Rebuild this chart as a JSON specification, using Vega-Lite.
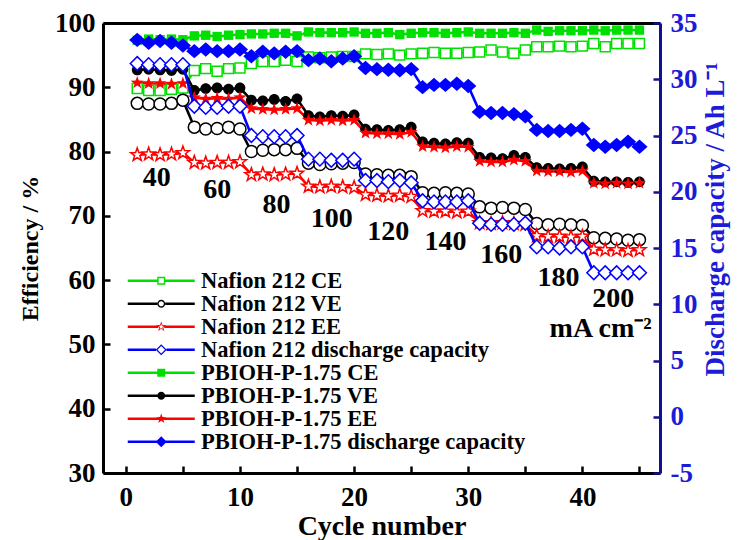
{
  "$schema": "https://vega.github.io/schema/vega-lite/v6.json",
  "width": 557,
  "height": 450,
  "autosize": {"type": "none"},
  "padding": {"left": 103, "top": 23, "right": 84, "bottom": 67},
  "background": "white",
  "config": {
    "font": "Liberation Serif",
    "view": {"stroke": null},
    "axis": {
      "labelFont": "Liberation Serif",
      "titleFont": "Liberation Serif",
      "labelFontWeight": "bold",
      "titleFontWeight": "bold",
      "grid": false,
      "labelOverlap": false,
      "labelFlush": false
    }
  },
  "datasets": {
    "efficiency": [
      {"cycle":1,"series":"Nafion 212 CE","value":89.8},{"cycle":2,"series":"Nafion 212 CE","value":89.5},{"cycle":3,"series":"Nafion 212 CE","value":89.5},{"cycle":4,"series":"Nafion 212 CE","value":89.7},{"cycle":5,"series":"Nafion 212 CE","value":89.9},
      {"cycle":6,"series":"Nafion 212 CE","value":92.6},{"cycle":7,"series":"Nafion 212 CE","value":92.9},{"cycle":8,"series":"Nafion 212 CE","value":92.5},{"cycle":9,"series":"Nafion 212 CE","value":92.9},{"cycle":10,"series":"Nafion 212 CE","value":93.0},
      {"cycle":11,"series":"Nafion 212 CE","value":93.7},{"cycle":12,"series":"Nafion 212 CE","value":94.0},{"cycle":13,"series":"Nafion 212 CE","value":94.0},{"cycle":14,"series":"Nafion 212 CE","value":94.2},{"cycle":15,"series":"Nafion 212 CE","value":94.0},
      {"cycle":16,"series":"Nafion 212 CE","value":94.7},{"cycle":17,"series":"Nafion 212 CE","value":94.6},{"cycle":18,"series":"Nafion 212 CE","value":94.7},{"cycle":19,"series":"Nafion 212 CE","value":94.8},{"cycle":20,"series":"Nafion 212 CE","value":94.8},
      {"cycle":21,"series":"Nafion 212 CE","value":95.2},{"cycle":22,"series":"Nafion 212 CE","value":95.1},{"cycle":23,"series":"Nafion 212 CE","value":95.2},{"cycle":24,"series":"Nafion 212 CE","value":95.0},{"cycle":25,"series":"Nafion 212 CE","value":95.2},
      {"cycle":26,"series":"Nafion 212 CE","value":95.3},{"cycle":27,"series":"Nafion 212 CE","value":95.4},{"cycle":28,"series":"Nafion 212 CE","value":95.3},{"cycle":29,"series":"Nafion 212 CE","value":95.3},{"cycle":30,"series":"Nafion 212 CE","value":95.4},
      {"cycle":31,"series":"Nafion 212 CE","value":95.5},{"cycle":32,"series":"Nafion 212 CE","value":95.8},{"cycle":33,"series":"Nafion 212 CE","value":95.5},{"cycle":34,"series":"Nafion 212 CE","value":95.3},{"cycle":35,"series":"Nafion 212 CE","value":95.8},
      {"cycle":36,"series":"Nafion 212 CE","value":96.3},{"cycle":37,"series":"Nafion 212 CE","value":96.3},{"cycle":38,"series":"Nafion 212 CE","value":96.4},{"cycle":39,"series":"Nafion 212 CE","value":96.3},{"cycle":40,"series":"Nafion 212 CE","value":96.4},
      {"cycle":41,"series":"Nafion 212 CE","value":96.8},{"cycle":42,"series":"Nafion 212 CE","value":96.3},{"cycle":43,"series":"Nafion 212 CE","value":96.8},{"cycle":44,"series":"Nafion 212 CE","value":96.8},{"cycle":45,"series":"Nafion 212 CE","value":96.8},

      {"cycle":1,"series":"Nafion 212 VE","value":87.5},{"cycle":2,"series":"Nafion 212 VE","value":87.4},{"cycle":3,"series":"Nafion 212 VE","value":87.4},{"cycle":4,"series":"Nafion 212 VE","value":87.5},{"cycle":5,"series":"Nafion 212 VE","value":88.0},
      {"cycle":6,"series":"Nafion 212 VE","value":83.8},{"cycle":7,"series":"Nafion 212 VE","value":83.5},{"cycle":8,"series":"Nafion 212 VE","value":83.6},{"cycle":9,"series":"Nafion 212 VE","value":83.8},{"cycle":10,"series":"Nafion 212 VE","value":83.5},
      {"cycle":11,"series":"Nafion 212 VE","value":80.0},{"cycle":12,"series":"Nafion 212 VE","value":80.2},{"cycle":13,"series":"Nafion 212 VE","value":80.3},{"cycle":14,"series":"Nafion 212 VE","value":80.3},{"cycle":15,"series":"Nafion 212 VE","value":80.5},
      {"cycle":16,"series":"Nafion 212 VE","value":78.2},{"cycle":17,"series":"Nafion 212 VE","value":78.0},{"cycle":18,"series":"Nafion 212 VE","value":78.1},{"cycle":19,"series":"Nafion 212 VE","value":78.2},{"cycle":20,"series":"Nafion 212 VE","value":78.3},
      {"cycle":21,"series":"Nafion 212 VE","value":76.5},{"cycle":22,"series":"Nafion 212 VE","value":76.4},{"cycle":23,"series":"Nafion 212 VE","value":76.3},{"cycle":24,"series":"Nafion 212 VE","value":76.3},{"cycle":25,"series":"Nafion 212 VE","value":76.1},
      {"cycle":26,"series":"Nafion 212 VE","value":73.6},{"cycle":27,"series":"Nafion 212 VE","value":73.5},{"cycle":28,"series":"Nafion 212 VE","value":73.6},{"cycle":29,"series":"Nafion 212 VE","value":73.5},{"cycle":30,"series":"Nafion 212 VE","value":73.4},
      {"cycle":31,"series":"Nafion 212 VE","value":71.4},{"cycle":32,"series":"Nafion 212 VE","value":71.2},{"cycle":33,"series":"Nafion 212 VE","value":71.3},{"cycle":34,"series":"Nafion 212 VE","value":71.2},{"cycle":35,"series":"Nafion 212 VE","value":71.0},
      {"cycle":36,"series":"Nafion 212 VE","value":68.8},{"cycle":37,"series":"Nafion 212 VE","value":68.6},{"cycle":38,"series":"Nafion 212 VE","value":68.7},{"cycle":39,"series":"Nafion 212 VE","value":68.6},{"cycle":40,"series":"Nafion 212 VE","value":68.5},
      {"cycle":41,"series":"Nafion 212 VE","value":66.6},{"cycle":42,"series":"Nafion 212 VE","value":66.5},{"cycle":43,"series":"Nafion 212 VE","value":66.4},{"cycle":44,"series":"Nafion 212 VE","value":66.2},{"cycle":45,"series":"Nafion 212 VE","value":66.3},

      {"cycle":1,"series":"Nafion 212 EE","value":79.5},{"cycle":2,"series":"Nafion 212 EE","value":79.6},{"cycle":3,"series":"Nafion 212 EE","value":79.5},{"cycle":4,"series":"Nafion 212 EE","value":79.6},{"cycle":5,"series":"Nafion 212 EE","value":79.8},
      {"cycle":6,"series":"Nafion 212 EE","value":78.3},{"cycle":7,"series":"Nafion 212 EE","value":78.2},{"cycle":8,"series":"Nafion 212 EE","value":78.3},{"cycle":9,"series":"Nafion 212 EE","value":78.3},{"cycle":10,"series":"Nafion 212 EE","value":78.4},
      {"cycle":11,"series":"Nafion 212 EE","value":76.4},{"cycle":12,"series":"Nafion 212 EE","value":76.5},{"cycle":13,"series":"Nafion 212 EE","value":76.4},{"cycle":14,"series":"Nafion 212 EE","value":76.5},{"cycle":15,"series":"Nafion 212 EE","value":76.6},
      {"cycle":16,"series":"Nafion 212 EE","value":74.6},{"cycle":17,"series":"Nafion 212 EE","value":74.5},{"cycle":18,"series":"Nafion 212 EE","value":74.6},{"cycle":19,"series":"Nafion 212 EE","value":74.5},{"cycle":20,"series":"Nafion 212 EE","value":74.4},
      {"cycle":21,"series":"Nafion 212 EE","value":73.3},{"cycle":22,"series":"Nafion 212 EE","value":73.2},{"cycle":23,"series":"Nafion 212 EE","value":73.1},{"cycle":24,"series":"Nafion 212 EE","value":73.2},{"cycle":25,"series":"Nafion 212 EE","value":73.0},
      {"cycle":26,"series":"Nafion 212 EE","value":70.8},{"cycle":27,"series":"Nafion 212 EE","value":70.7},{"cycle":28,"series":"Nafion 212 EE","value":70.7},{"cycle":29,"series":"Nafion 212 EE","value":70.6},{"cycle":30,"series":"Nafion 212 EE","value":70.7},
      {"cycle":31,"series":"Nafion 212 EE","value":68.9},{"cycle":32,"series":"Nafion 212 EE","value":68.8},{"cycle":33,"series":"Nafion 212 EE","value":68.9},{"cycle":34,"series":"Nafion 212 EE","value":68.8},{"cycle":35,"series":"Nafion 212 EE","value":68.7},
      {"cycle":36,"series":"Nafion 212 EE","value":66.9},{"cycle":37,"series":"Nafion 212 EE","value":66.8},{"cycle":38,"series":"Nafion 212 EE","value":66.8},{"cycle":39,"series":"Nafion 212 EE","value":66.7},{"cycle":40,"series":"Nafion 212 EE","value":66.8},
      {"cycle":41,"series":"Nafion 212 EE","value":64.8},{"cycle":42,"series":"Nafion 212 EE","value":64.7},{"cycle":43,"series":"Nafion 212 EE","value":64.7},{"cycle":44,"series":"Nafion 212 EE","value":64.6},{"cycle":45,"series":"Nafion 212 EE","value":64.7},

      {"cycle":1,"series":"PBIOH-P-1.75 CE","value":97.3},{"cycle":2,"series":"PBIOH-P-1.75 CE","value":97.5},{"cycle":3,"series":"PBIOH-P-1.75 CE","value":97.4},{"cycle":4,"series":"PBIOH-P-1.75 CE","value":97.5},{"cycle":5,"series":"PBIOH-P-1.75 CE","value":97.4},
      {"cycle":6,"series":"PBIOH-P-1.75 CE","value":98.0},{"cycle":7,"series":"PBIOH-P-1.75 CE","value":98.1},{"cycle":8,"series":"PBIOH-P-1.75 CE","value":97.9},{"cycle":9,"series":"PBIOH-P-1.75 CE","value":98.1},{"cycle":10,"series":"PBIOH-P-1.75 CE","value":98.2},
      {"cycle":11,"series":"PBIOH-P-1.75 CE","value":98.3},{"cycle":12,"series":"PBIOH-P-1.75 CE","value":98.3},{"cycle":13,"series":"PBIOH-P-1.75 CE","value":98.4},{"cycle":14,"series":"PBIOH-P-1.75 CE","value":98.4},{"cycle":15,"series":"PBIOH-P-1.75 CE","value":98.0},
      {"cycle":16,"series":"PBIOH-P-1.75 CE","value":98.6},{"cycle":17,"series":"PBIOH-P-1.75 CE","value":98.5},{"cycle":18,"series":"PBIOH-P-1.75 CE","value":98.5},{"cycle":19,"series":"PBIOH-P-1.75 CE","value":98.5},{"cycle":20,"series":"PBIOH-P-1.75 CE","value":98.6},
      {"cycle":21,"series":"PBIOH-P-1.75 CE","value":98.4},{"cycle":22,"series":"PBIOH-P-1.75 CE","value":98.4},{"cycle":23,"series":"PBIOH-P-1.75 CE","value":98.5},{"cycle":24,"series":"PBIOH-P-1.75 CE","value":98.2},{"cycle":25,"series":"PBIOH-P-1.75 CE","value":98.4},
      {"cycle":26,"series":"PBIOH-P-1.75 CE","value":98.5},{"cycle":27,"series":"PBIOH-P-1.75 CE","value":98.5},{"cycle":28,"series":"PBIOH-P-1.75 CE","value":98.4},{"cycle":29,"series":"PBIOH-P-1.75 CE","value":98.5},{"cycle":30,"series":"PBIOH-P-1.75 CE","value":98.6},
      {"cycle":31,"series":"PBIOH-P-1.75 CE","value":98.4},{"cycle":32,"series":"PBIOH-P-1.75 CE","value":98.4},{"cycle":33,"series":"PBIOH-P-1.75 CE","value":98.4},{"cycle":34,"series":"PBIOH-P-1.75 CE","value":98.5},{"cycle":35,"series":"PBIOH-P-1.75 CE","value":98.4},
      {"cycle":36,"series":"PBIOH-P-1.75 CE","value":98.9},{"cycle":37,"series":"PBIOH-P-1.75 CE","value":98.7},{"cycle":38,"series":"PBIOH-P-1.75 CE","value":98.8},{"cycle":39,"series":"PBIOH-P-1.75 CE","value":98.8},{"cycle":40,"series":"PBIOH-P-1.75 CE","value":98.8},
      {"cycle":41,"series":"PBIOH-P-1.75 CE","value":98.9},{"cycle":42,"series":"PBIOH-P-1.75 CE","value":98.8},{"cycle":43,"series":"PBIOH-P-1.75 CE","value":98.9},{"cycle":44,"series":"PBIOH-P-1.75 CE","value":98.9},{"cycle":45,"series":"PBIOH-P-1.75 CE","value":98.9},

      {"cycle":1,"series":"PBIOH-P-1.75 VE","value":92.7},{"cycle":2,"series":"PBIOH-P-1.75 VE","value":92.8},{"cycle":3,"series":"PBIOH-P-1.75 VE","value":92.7},{"cycle":4,"series":"PBIOH-P-1.75 VE","value":92.6},{"cycle":5,"series":"PBIOH-P-1.75 VE","value":92.8},
      {"cycle":6,"series":"PBIOH-P-1.75 VE","value":89.5},{"cycle":7,"series":"PBIOH-P-1.75 VE","value":89.8},{"cycle":8,"series":"PBIOH-P-1.75 VE","value":89.9},{"cycle":9,"series":"PBIOH-P-1.75 VE","value":89.7},{"cycle":10,"series":"PBIOH-P-1.75 VE","value":89.9},
      {"cycle":11,"series":"PBIOH-P-1.75 VE","value":88.0},{"cycle":12,"series":"PBIOH-P-1.75 VE","value":87.9},{"cycle":13,"series":"PBIOH-P-1.75 VE","value":88.1},{"cycle":14,"series":"PBIOH-P-1.75 VE","value":87.8},{"cycle":15,"series":"PBIOH-P-1.75 VE","value":88.2},
      {"cycle":16,"series":"PBIOH-P-1.75 VE","value":85.6},{"cycle":17,"series":"PBIOH-P-1.75 VE","value":85.4},{"cycle":18,"series":"PBIOH-P-1.75 VE","value":85.6},{"cycle":19,"series":"PBIOH-P-1.75 VE","value":85.5},{"cycle":20,"series":"PBIOH-P-1.75 VE","value":85.7},
      {"cycle":21,"series":"PBIOH-P-1.75 VE","value":83.5},{"cycle":22,"series":"PBIOH-P-1.75 VE","value":83.4},{"cycle":23,"series":"PBIOH-P-1.75 VE","value":83.3},{"cycle":24,"series":"PBIOH-P-1.75 VE","value":83.4},{"cycle":25,"series":"PBIOH-P-1.75 VE","value":83.8},
      {"cycle":26,"series":"PBIOH-P-1.75 VE","value":81.5},{"cycle":27,"series":"PBIOH-P-1.75 VE","value":81.3},{"cycle":28,"series":"PBIOH-P-1.75 VE","value":81.2},{"cycle":29,"series":"PBIOH-P-1.75 VE","value":81.4},{"cycle":30,"series":"PBIOH-P-1.75 VE","value":81.3},
      {"cycle":31,"series":"PBIOH-P-1.75 VE","value":79.1},{"cycle":32,"series":"PBIOH-P-1.75 VE","value":79.0},{"cycle":33,"series":"PBIOH-P-1.75 VE","value":78.9},{"cycle":34,"series":"PBIOH-P-1.75 VE","value":79.4},{"cycle":35,"series":"PBIOH-P-1.75 VE","value":79.1},
      {"cycle":36,"series":"PBIOH-P-1.75 VE","value":77.5},{"cycle":37,"series":"PBIOH-P-1.75 VE","value":77.4},{"cycle":38,"series":"PBIOH-P-1.75 VE","value":77.3},{"cycle":39,"series":"PBIOH-P-1.75 VE","value":77.4},{"cycle":40,"series":"PBIOH-P-1.75 VE","value":77.6},
      {"cycle":41,"series":"PBIOH-P-1.75 VE","value":75.4},{"cycle":42,"series":"PBIOH-P-1.75 VE","value":75.3},{"cycle":43,"series":"PBIOH-P-1.75 VE","value":75.3},{"cycle":44,"series":"PBIOH-P-1.75 VE","value":75.2},{"cycle":45,"series":"PBIOH-P-1.75 VE","value":75.3},

      {"cycle":1,"series":"PBIOH-P-1.75 EE","value":90.7},{"cycle":2,"series":"PBIOH-P-1.75 EE","value":90.6},{"cycle":3,"series":"PBIOH-P-1.75 EE","value":90.6},{"cycle":4,"series":"PBIOH-P-1.75 EE","value":90.5},{"cycle":5,"series":"PBIOH-P-1.75 EE","value":90.6},
      {"cycle":6,"series":"PBIOH-P-1.75 EE","value":88.4},{"cycle":7,"series":"PBIOH-P-1.75 EE","value":88.2},{"cycle":8,"series":"PBIOH-P-1.75 EE","value":88.3},{"cycle":9,"series":"PBIOH-P-1.75 EE","value":88.2},{"cycle":10,"series":"PBIOH-P-1.75 EE","value":88.4},
      {"cycle":11,"series":"PBIOH-P-1.75 EE","value":86.7},{"cycle":12,"series":"PBIOH-P-1.75 EE","value":86.6},{"cycle":13,"series":"PBIOH-P-1.75 EE","value":86.5},{"cycle":14,"series":"PBIOH-P-1.75 EE","value":86.6},{"cycle":15,"series":"PBIOH-P-1.75 EE","value":86.7},
      {"cycle":16,"series":"PBIOH-P-1.75 EE","value":84.9},{"cycle":17,"series":"PBIOH-P-1.75 EE","value":84.8},{"cycle":18,"series":"PBIOH-P-1.75 EE","value":84.9},{"cycle":19,"series":"PBIOH-P-1.75 EE","value":84.8},{"cycle":20,"series":"PBIOH-P-1.75 EE","value":84.9},
      {"cycle":21,"series":"PBIOH-P-1.75 EE","value":82.9},{"cycle":22,"series":"PBIOH-P-1.75 EE","value":82.8},{"cycle":23,"series":"PBIOH-P-1.75 EE","value":82.8},{"cycle":24,"series":"PBIOH-P-1.75 EE","value":82.7},{"cycle":25,"series":"PBIOH-P-1.75 EE","value":83.0},
      {"cycle":26,"series":"PBIOH-P-1.75 EE","value":80.8},{"cycle":27,"series":"PBIOH-P-1.75 EE","value":80.7},{"cycle":28,"series":"PBIOH-P-1.75 EE","value":80.6},{"cycle":29,"series":"PBIOH-P-1.75 EE","value":80.8},{"cycle":30,"series":"PBIOH-P-1.75 EE","value":80.7},
      {"cycle":31,"series":"PBIOH-P-1.75 EE","value":78.5},{"cycle":32,"series":"PBIOH-P-1.75 EE","value":78.4},{"cycle":33,"series":"PBIOH-P-1.75 EE","value":78.4},{"cycle":34,"series":"PBIOH-P-1.75 EE","value":78.7},{"cycle":35,"series":"PBIOH-P-1.75 EE","value":78.5},
      {"cycle":36,"series":"PBIOH-P-1.75 EE","value":77.0},{"cycle":37,"series":"PBIOH-P-1.75 EE","value":76.9},{"cycle":38,"series":"PBIOH-P-1.75 EE","value":76.9},{"cycle":39,"series":"PBIOH-P-1.75 EE","value":76.8},{"cycle":40,"series":"PBIOH-P-1.75 EE","value":77.0},
      {"cycle":41,"series":"PBIOH-P-1.75 EE","value":75.1},{"cycle":42,"series":"PBIOH-P-1.75 EE","value":75.0},{"cycle":43,"series":"PBIOH-P-1.75 EE","value":75.1},{"cycle":44,"series":"PBIOH-P-1.75 EE","value":75.0},{"cycle":45,"series":"PBIOH-P-1.75 EE","value":75.1}
    ],
    "capacity": [
      {"cycle":1,"series":"Nafion 212 discharge capacity","value":31.4},{"cycle":2,"series":"Nafion 212 discharge capacity","value":31.3},{"cycle":3,"series":"Nafion 212 discharge capacity","value":31.3},{"cycle":4,"series":"Nafion 212 discharge capacity","value":31.3},{"cycle":5,"series":"Nafion 212 discharge capacity","value":31.3},
      {"cycle":6,"series":"Nafion 212 discharge capacity","value":27.6},{"cycle":7,"series":"Nafion 212 discharge capacity","value":27.5},{"cycle":8,"series":"Nafion 212 discharge capacity","value":27.5},{"cycle":9,"series":"Nafion 212 discharge capacity","value":27.6},{"cycle":10,"series":"Nafion 212 discharge capacity","value":27.6},
      {"cycle":11,"series":"Nafion 212 discharge capacity","value":25.0},{"cycle":12,"series":"Nafion 212 discharge capacity","value":24.9},{"cycle":13,"series":"Nafion 212 discharge capacity","value":24.9},{"cycle":14,"series":"Nafion 212 discharge capacity","value":24.9},{"cycle":15,"series":"Nafion 212 discharge capacity","value":25.0},
      {"cycle":16,"series":"Nafion 212 discharge capacity","value":22.9},{"cycle":17,"series":"Nafion 212 discharge capacity","value":22.9},{"cycle":18,"series":"Nafion 212 discharge capacity","value":22.8},{"cycle":19,"series":"Nafion 212 discharge capacity","value":22.8},{"cycle":20,"series":"Nafion 212 discharge capacity","value":22.9},
      {"cycle":21,"series":"Nafion 212 discharge capacity","value":21.0},{"cycle":22,"series":"Nafion 212 discharge capacity","value":21.0},{"cycle":23,"series":"Nafion 212 discharge capacity","value":20.9},{"cycle":24,"series":"Nafion 212 discharge capacity","value":21.0},{"cycle":25,"series":"Nafion 212 discharge capacity","value":20.8},
      {"cycle":26,"series":"Nafion 212 discharge capacity","value":19.2},{"cycle":27,"series":"Nafion 212 discharge capacity","value":19.1},{"cycle":28,"series":"Nafion 212 discharge capacity","value":19.1},{"cycle":29,"series":"Nafion 212 discharge capacity","value":19.1},{"cycle":30,"series":"Nafion 212 discharge capacity","value":19.2},
      {"cycle":31,"series":"Nafion 212 discharge capacity","value":17.2},{"cycle":32,"series":"Nafion 212 discharge capacity","value":17.1},{"cycle":33,"series":"Nafion 212 discharge capacity","value":17.1},{"cycle":34,"series":"Nafion 212 discharge capacity","value":17.1},{"cycle":35,"series":"Nafion 212 discharge capacity","value":17.2},
      {"cycle":36,"series":"Nafion 212 discharge capacity","value":15.1},{"cycle":37,"series":"Nafion 212 discharge capacity","value":15.1},{"cycle":38,"series":"Nafion 212 discharge capacity","value":15.0},{"cycle":39,"series":"Nafion 212 discharge capacity","value":15.1},{"cycle":40,"series":"Nafion 212 discharge capacity","value":15.1},
      {"cycle":41,"series":"Nafion 212 discharge capacity","value":12.8},{"cycle":42,"series":"Nafion 212 discharge capacity","value":12.8},{"cycle":43,"series":"Nafion 212 discharge capacity","value":12.8},{"cycle":44,"series":"Nafion 212 discharge capacity","value":12.8},{"cycle":45,"series":"Nafion 212 discharge capacity","value":12.8},

      {"cycle":1,"series":"PBIOH-P-1.75 discharge capacity","value":33.5},{"cycle":2,"series":"PBIOH-P-1.75 discharge capacity","value":33.25},{"cycle":3,"series":"PBIOH-P-1.75 discharge capacity","value":33.4},{"cycle":4,"series":"PBIOH-P-1.75 discharge capacity","value":33.25},{"cycle":5,"series":"PBIOH-P-1.75 discharge capacity","value":33.0},
      {"cycle":6,"series":"PBIOH-P-1.75 discharge capacity","value":32.5},{"cycle":7,"series":"PBIOH-P-1.75 discharge capacity","value":32.65},{"cycle":8,"series":"PBIOH-P-1.75 discharge capacity","value":32.5},{"cycle":9,"series":"PBIOH-P-1.75 discharge capacity","value":32.5},{"cycle":10,"series":"PBIOH-P-1.75 discharge capacity","value":32.65},
      {"cycle":11,"series":"PBIOH-P-1.75 discharge capacity","value":32.05},{"cycle":12,"series":"PBIOH-P-1.75 discharge capacity","value":32.45},{"cycle":13,"series":"PBIOH-P-1.75 discharge capacity","value":32.3},{"cycle":14,"series":"PBIOH-P-1.75 discharge capacity","value":32.45},{"cycle":15,"series":"PBIOH-P-1.75 discharge capacity","value":32.5},
      {"cycle":16,"series":"PBIOH-P-1.75 discharge capacity","value":31.7},{"cycle":17,"series":"PBIOH-P-1.75 discharge capacity","value":31.85},{"cycle":18,"series":"PBIOH-P-1.75 discharge capacity","value":31.6},{"cycle":19,"series":"PBIOH-P-1.75 discharge capacity","value":31.85},{"cycle":20,"series":"PBIOH-P-1.75 discharge capacity","value":32.05},
      {"cycle":21,"series":"PBIOH-P-1.75 discharge capacity","value":31.0},{"cycle":22,"series":"PBIOH-P-1.75 discharge capacity","value":30.9},{"cycle":23,"series":"PBIOH-P-1.75 discharge capacity","value":30.85},{"cycle":24,"series":"PBIOH-P-1.75 discharge capacity","value":30.8},{"cycle":25,"series":"PBIOH-P-1.75 discharge capacity","value":30.9},
      {"cycle":26,"series":"PBIOH-P-1.75 discharge capacity","value":29.3},{"cycle":27,"series":"PBIOH-P-1.75 discharge capacity","value":29.5},{"cycle":28,"series":"PBIOH-P-1.75 discharge capacity","value":29.5},{"cycle":29,"series":"PBIOH-P-1.75 discharge capacity","value":29.6},{"cycle":30,"series":"PBIOH-P-1.75 discharge capacity","value":29.4},
      {"cycle":31,"series":"PBIOH-P-1.75 discharge capacity","value":27.1},{"cycle":32,"series":"PBIOH-P-1.75 discharge capacity","value":27.0},{"cycle":33,"series":"PBIOH-P-1.75 discharge capacity","value":27.0},{"cycle":34,"series":"PBIOH-P-1.75 discharge capacity","value":26.9},{"cycle":35,"series":"PBIOH-P-1.75 discharge capacity","value":26.7},
      {"cycle":36,"series":"PBIOH-P-1.75 discharge capacity","value":25.5},{"cycle":37,"series":"PBIOH-P-1.75 discharge capacity","value":25.4},{"cycle":38,"series":"PBIOH-P-1.75 discharge capacity","value":25.4},{"cycle":39,"series":"PBIOH-P-1.75 discharge capacity","value":25.5},{"cycle":40,"series":"PBIOH-P-1.75 discharge capacity","value":25.6},
      {"cycle":41,"series":"PBIOH-P-1.75 discharge capacity","value":24.15},{"cycle":42,"series":"PBIOH-P-1.75 discharge capacity","value":24.0},{"cycle":43,"series":"PBIOH-P-1.75 discharge capacity","value":24.15},{"cycle":44,"series":"PBIOH-P-1.75 discharge capacity","value":24.45},{"cycle":45,"series":"PBIOH-P-1.75 discharge capacity","value":24.0}
    ],
    "series": [
      {"series": "Nafion 212 CE"},
      {"series": "Nafion 212 VE"},
      {"series": "Nafion 212 EE"},
      {"series": "Nafion 212 discharge capacity"},
      {"series": "PBIOH-P-1.75 CE"},
      {"series": "PBIOH-P-1.75 VE"},
      {"series": "PBIOH-P-1.75 EE"},
      {"series": "PBIOH-P-1.75 discharge capacity"}
    ],
    "notes": [
      {"cycle": 2.7, "value": 75.9, "label": "40"},
      {"cycle": 8.0, "value": 74.0, "label": "60"},
      {"cycle": 13.2, "value": 71.7, "label": "80"},
      {"cycle": 18.05, "value": 69.5, "label": "100"},
      {"cycle": 23.0, "value": 67.5, "label": "120"},
      {"cycle": 28.0, "value": 66.0, "label": "140"},
      {"cycle": 32.9, "value": 63.9, "label": "160"},
      {"cycle": 37.9, "value": 60.3, "label": "180"},
      {"cycle": 42.7, "value": 57.0, "label": "200"},
      {"cycle": 41.6, "value": 52.4, "label": "mA cm⁻²"}
    ]
  },
  "layer": [
    {
      "layer": [
        {
          "data": {"name": "efficiency"},
          "mark": {"type": "line", "strokeWidth": 2.6},
          "encoding": {
            "x": {
              "field": "cycle", "type": "quantitative",
              "scale": {"domain": [-2, 46.8], "nice": false, "zero": false},
              "axis": {
                "orient": "bottom",
                "values": [0, 5, 10, 15, 20, 25, 30, 35, 40, 45],
                "labelExpr": "datum.value % 10 === 0 ? datum.label : ''",
                "tickSize": -7,
                "tickWidth": 2.5, "tickColor": "black",
                "domainColor": "black", "domainWidth": 3,
                "labelFontSize": 27, "labelColor": "black", "labelPadding": 18,
                "title": "Cycle number", "titleFontSize": 28, "titleColor": "black", "titlePadding": 2
              }
            },
            "y": {
              "field": "value", "type": "quantitative",
              "scale": {"domain": [30, 100], "nice": false, "zero": false},
              "axis": {
                "orient": "left",
                "values": [30, 35, 40, 45, 50, 55, 60, 65, 70, 75, 80, 85, 90, 95, 100],
                "labelExpr": "datum.value % 10 === 0 ? datum.label : ''",
                "tickSize": -7,
                "tickWidth": 2.5, "tickColor": "black",
                "domainColor": "black", "domainWidth": 3,
                "labelFontSize": 27, "labelColor": "black", "labelPadding": 15,
                "title": "Efficiency / %", "titleFontSize": 24, "titleColor": "black", "titlePadding": 12
              }
            },
            "color": {
              "field": "series", "type": "nominal", "legend": null,
              "scale": {
                "domain": ["Nafion 212 CE", "Nafion 212 VE", "Nafion 212 EE", "PBIOH-P-1.75 CE", "PBIOH-P-1.75 VE", "PBIOH-P-1.75 EE"],
                "range": ["#00e000", "#000000", "#ff0000", "#00e000", "#000000", "#ff0000"]
              }
            }
          }
        },
        {
          "data": {"name": "efficiency"},
          "transform": [{"filter": {"field": "series", "oneOf": ["Nafion 212 CE", "Nafion 212 VE", "Nafion 212 EE"]}}],
          "mark": {"type": "point", "filled": false, "fill": "white", "strokeWidth": 1.5, "size": 144, "opacity": 1},
          "encoding": {
            "x": {"field": "cycle", "type": "quantitative"},
            "y": {"field": "value", "type": "quantitative"},
            "color": {"field": "series", "type": "nominal", "legend": null},
            "shape": {
              "field": "series", "type": "nominal", "legend": null,
              "scale": {
                "domain": ["Nafion 212 CE", "Nafion 212 VE", "Nafion 212 EE", "PBIOH-P-1.75 CE", "PBIOH-P-1.75 VE", "PBIOH-P-1.75 EE"],
                "range": [
                  "M-0.83,-0.83H0.83V0.83H-0.83Z",
                  "M1,0C1,0.552,0.552,1,0,1C-0.552,1,-1,0.552,-1,0C-1,-0.552,-0.552,-1,0,-1C0.552,-1,1,-0.552,1,0Z",
                  "M0,-1.15L0.27,-0.372L1.094,-0.355L0.437,0.142L0.676,0.93L0,0.46L-0.676,0.93L-0.437,0.142L-1.094,-0.355L-0.27,-0.372Z",
                  "M-0.78,-0.78H0.78V0.78H-0.78Z",
                  "M0.9,0C0.9,0.497,0.497,0.9,0,0.9C-0.497,0.9,-0.9,0.497,-0.9,0C-0.9,-0.497,-0.497,-0.9,0,-0.9C0.497,-0.9,0.9,-0.497,0.9,0Z",
                  "M0,-1.15L0.27,-0.372L1.094,-0.355L0.437,0.142L0.676,0.93L0,0.46L-0.676,0.93L-0.437,0.142L-1.094,-0.355L-0.27,-0.372Z"
                ]
              }
            }
          }
        },
        {
          "data": {"name": "efficiency"},
          "transform": [{"filter": {"field": "series", "oneOf": ["PBIOH-P-1.75 CE", "PBIOH-P-1.75 VE", "PBIOH-P-1.75 EE"]}}],
          "mark": {"type": "point", "filled": true, "size": 144, "opacity": 1},
          "encoding": {
            "x": {"field": "cycle", "type": "quantitative"},
            "y": {"field": "value", "type": "quantitative"},
            "color": {"field": "series", "type": "nominal", "legend": null},
            "shape": {"field": "series", "type": "nominal", "legend": null}
          }
        },
        {
          "data": {"name": "notes"},
          "mark": {"type": "text", "font": "Liberation Serif", "fontWeight": "bold", "fontSize": 28, "color": "black", "align": "center", "baseline": "middle"},
          "encoding": {
            "x": {"field": "cycle", "type": "quantitative"},
            "y": {"field": "value", "type": "quantitative"},
            "text": {"field": "label", "type": "nominal"}
          }
        }
      ]
    },
    {
      "layer": [
        {
          "data": {"name": "capacity"},
          "mark": {"type": "line", "strokeWidth": 2.6},
          "encoding": {
            "x": {
              "field": "cycle", "type": "quantitative",
              "scale": {"domain": [-2, 46.8], "nice": false, "zero": false},
              "axis": {"orient": "top", "labels": false, "ticks": false, "title": null, "domainColor": "black", "domainWidth": 3}
            },
            "y": {
              "field": "value", "type": "quantitative",
              "scale": {"domain": [-5, 35], "nice": false, "zero": false},
              "axis": {
                "orient": "right",
                "values": [-5, -2.5, 0, 2.5, 5, 7.5, 10, 12.5, 15, 17.5, 20, 22.5, 25, 27.5, 30, 32.5, 35],
                "labelExpr": "datum.value % 5 === 0 ? datum.value + '' : ''",
                "tickSize": -7,
                "tickWidth": 2.5, "tickColor": "#101090",
                "domainColor": "#101090", "domainWidth": 3,
                "labelFontSize": 27, "labelColor": "#1c1cd8", "labelPadding": 17,
                "title": "Discharge capacity / Ah L⁻¹", "titleFontSize": 27, "titleColor": "#1c1cd8",
                "titleAngle": 270, "titleBaseline": "top", "titlePadding": 5, "titleY": 196
              }
            },
            "color": {
              "field": "series", "type": "nominal", "legend": null,
              "scale": {
                "domain": ["Nafion 212 discharge capacity", "PBIOH-P-1.75 discharge capacity"],
                "range": ["#0000ff", "#0000ff"]
              }
            }
          }
        },
        {
          "data": {"name": "capacity"},
          "transform": [{"filter": {"field": "series", "equal": "Nafion 212 discharge capacity"}}],
          "mark": {"type": "point", "filled": false, "fill": "white", "strokeWidth": 1.5, "size": 144, "opacity": 1},
          "encoding": {
            "x": {"field": "cycle", "type": "quantitative"},
            "y": {"field": "value", "type": "quantitative"},
            "color": {"field": "series", "type": "nominal", "legend": null},
            "shape": {
              "field": "series", "type": "nominal", "legend": null,
              "scale": {
                "domain": ["Nafion 212 discharge capacity", "PBIOH-P-1.75 discharge capacity"],
                "range": ["M0,-1.15L1.15,0L0,1.15L-1.15,0Z", "M0,-1.2L1.35,0L0,1.2L-1.35,0Z"]
              }
            }
          }
        },
        {
          "data": {"name": "capacity"},
          "transform": [{"filter": {"field": "series", "equal": "PBIOH-P-1.75 discharge capacity"}}],
          "mark": {"type": "point", "filled": true, "size": 144, "opacity": 1},
          "encoding": {
            "x": {"field": "cycle", "type": "quantitative"},
            "y": {"field": "value", "type": "quantitative"},
            "color": {"field": "series", "type": "nominal", "legend": null},
            "shape": {"field": "series", "type": "nominal", "legend": null}
          }
        }
      ]
    },
    {
      "data": {"name": "series"},
      "mark": {"type": "point", "filled": true, "opacity": 0, "size": 100},
      "encoding": {
        "color": {
          "field": "series", "type": "nominal",
          "scale": {
            "domain": ["Nafion 212 CE", "Nafion 212 VE", "Nafion 212 EE", "Nafion 212 discharge capacity", "PBIOH-P-1.75 CE", "PBIOH-P-1.75 VE", "PBIOH-P-1.75 EE", "PBIOH-P-1.75 discharge capacity"],
            "range": ["#00e000", "#000000", "#ff0000", "#0000ff", "#00e000", "#000000", "#ff0000", "#0000ff"]
          },
          "legend": {
            "orient": "none", "legendX": 47, "legendY": 246.5, "title": null, "padding": 0,
            "labelFont": "Liberation Serif", "labelFontWeight": "bold", "labelFontSize": 22.5, "labelColor": "black",
            "labelOffset": 28.5, "labelLimit": 0, "rowPadding": 0,
            "symbolSize": 100, "symbolStrokeWidth": 0, "symbolOpacity": 1
          }
        },
        "shape": {
          "field": "series", "type": "nominal",
          "scale": {
            "domain": ["Nafion 212 CE", "Nafion 212 VE", "Nafion 212 EE", "Nafion 212 discharge capacity", "PBIOH-P-1.75 CE", "PBIOH-P-1.75 VE", "PBIOH-P-1.75 EE", "PBIOH-P-1.75 discharge capacity"],
            "range": [
              "M-6.7,-0.25H-0.8V0.25H-6.7ZM0.8,-0.25H6.7V0.25H0.8ZM-0.8,-0.8H0.8V0.8H-0.8ZM-0.52,-0.52V0.52H0.52V-0.52Z",
              "M-6.7,-0.25H-0.8V0.25H-6.7ZM0.8,-0.25H6.7V0.25H0.8ZM0.8,0C0.8,0.442,0.442,0.8,0,0.8C-0.442,0.8,-0.8,0.442,-0.8,0C-0.8,-0.442,-0.442,-0.8,0,-0.8C0.442,-0.8,0.8,-0.442,0.8,0ZM0.52,0C0.52,-0.287,0.287,-0.52,0,-0.52C-0.287,-0.52,-0.52,-0.287,-0.52,0C-0.52,0.287,-0.287,0.52,0,0.52C0.287,0.52,0.52,0.287,0.52,0Z",
              "M-6.7,-0.25H-0.6V0.25H-6.7ZM0.6,-0.25H6.7V0.25H0.6ZM0,-1.05L0.247,-0.34L0.999,-0.324L0.399,0.13L0.617,0.849L0,0.42L-0.617,0.849L-0.399,0.13L-0.999,-0.324L-0.247,-0.34ZM0,-0.55L-0.141,-0.194L-0.523,-0.17L-0.228,0.074L-0.323,0.445L0,0.24L0.323,0.445L0.228,0.074L0.523,-0.17L0.141,-0.194Z",
              "M-6.7,-0.25H-1.05V0.25H-6.7ZM1.05,-0.25H6.7V0.25H1.05ZM0,-1.1L1.1,0L0,1.1L-1.1,0ZM0,-0.75L-0.75,0L0,0.75L0.75,0Z",
              "M-6.7,-0.25H6.7V0.25H-6.7ZM-0.8,-0.8H0.8V0.8H-0.8Z",
              "M-6.7,-0.25H6.7V0.25H-6.7ZM0.8,0C0.8,0.442,0.442,0.8,0,0.8C-0.442,0.8,-0.8,0.442,-0.8,0C-0.8,-0.442,-0.442,-0.8,0,-0.8C0.442,-0.8,0.8,-0.442,0.8,0Z",
              "M-6.7,-0.25H6.7V0.25H-6.7ZM0,-1.05L0.247,-0.34L0.999,-0.324L0.399,0.13L0.617,0.849L0,0.42L-0.617,0.849L-0.399,0.13L-0.999,-0.324L-0.247,-0.34Z",
              "M-6.7,-0.25H6.7V0.25H-6.7ZM0,-1.1L1.1,0L0,1.1L-1.1,0Z"
            ]
          },
          "legend": {
            "orient": "none", "legendX": 47, "legendY": 246.5, "title": null, "padding": 0,
            "labelFont": "Liberation Serif", "labelFontWeight": "bold", "labelFontSize": 22.5, "labelColor": "black",
            "labelOffset": 28.5, "labelLimit": 0, "rowPadding": 0,
            "symbolSize": 100, "symbolStrokeWidth": 0, "symbolOpacity": 1
          }
        }
      }
    }
  ],
  "resolve": {"scale": {"y": "independent", "color": "independent", "shape": "independent"}}
}
